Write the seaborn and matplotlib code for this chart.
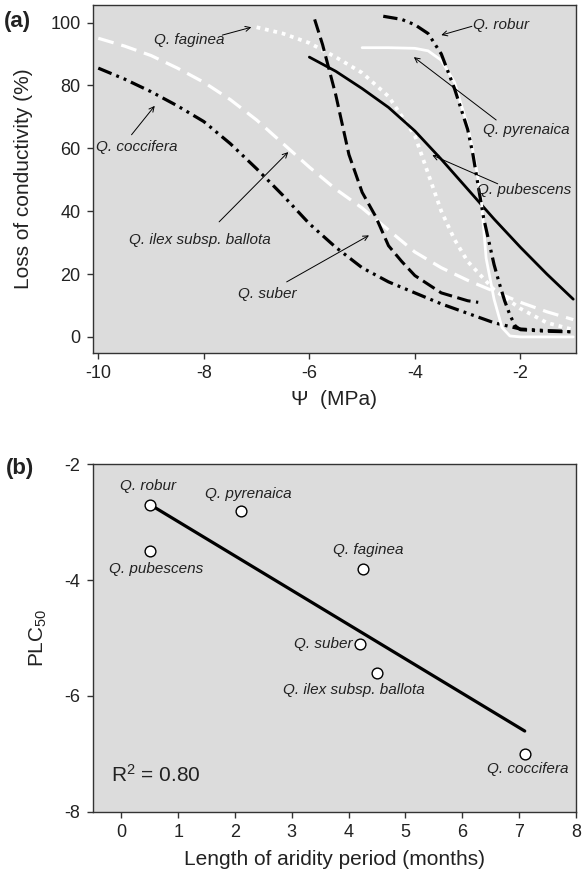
import matplotlib
matplotlib.use("Agg")
import matplotlib.pyplot as plt
import seaborn as sns

# ---- panel (a): vulnerability curves, Psi (MPa) vs loss of conductivity (%)
cocc_x = [-10, -9.5, -9, -8.5, -8, -7.5, -7, -6.5, -6, -5.5, -5, -4.5, -4, -3.5, -3, -2.5, -2, -1.5, -1]
cocc_y = [85.5, 82, 78, 73.5, 68.5, 61.5, 53.5, 45, 36, 28.5, 22, 17.5, 14, 10.5, 7.5, 4.5, 2.5, 2, 1.7]

ilex_x = [-10, -9.5, -9, -8.5, -8, -7.5, -7, -6.5, -6, -5.5, -5, -4.5, -4, -3.5, -3, -2.5, -2, -1.5, -1]
ilex_y = [95, 92.5, 89.5, 85.5, 81, 75.5, 69, 61.5, 54, 47, 41, 34, 27, 22, 18, 14.5, 11, 8, 5.5]

fag_x = [-7, -6.5, -6, -5.5, -5, -4.5, -4, -3.75, -3.5, -3.25, -3, -2.5, -2, -1.5, -1]
fag_y = [98.5, 96.5, 93.5, 89, 84, 76.5, 64, 52, 40, 31, 24, 15, 9, 4.5, 2.3]

suber_x = [-5.9, -5.75, -5.5, -5.25, -5, -4.75, -4.5, -4.25, -4, -3.5, -3, -2.8]
suber_y = [101, 93, 77, 58, 46, 38.5, 29, 24, 19.5, 14, 11.5, 11]

pub_x = [-6, -5.5, -5, -4.5, -4, -3.5, -3, -2.5, -2, -1.5, -1]
pub_y = [89, 84.5, 79, 73, 65.5, 56.5, 47, 37.5, 28.5, 20, 12]

pyr_x = [-5, -4.5, -4, -3.75, -3.5, -3.25, -3, -2.85, -2.75, -2.65, -2.5, -2.35, -2.2, -2, -1.5, -1]
pyr_y = [92, 92, 91.8, 91, 88, 81, 67, 55, 45, 25, 12, 3, 0.3, 0, 0, 0]

rob_x = [-4.6, -4.25, -4, -3.75, -3.5, -3.25, -3, -2.9, -2.8, -2.7, -2.6, -2.5, -2.4, -2.3, -2.2, -2.1, -2, -1.5, -1]
rob_y = [102, 101, 99.3, 96.5, 90, 79, 66, 58, 48, 38, 30.5, 23, 17, 11.5, 7, 3.5, 2.3, 1.8, 1.6]

# ---- panel (b): PLC50 vs length of aridity period
species = ["Q. robur", "Q. pyrenaica", "Q. pubescens", "Q. faginea",
           "Q. suber", "Q. ilex subsp. ballota", "Q. coccifera"]
aridity = [0.5, 2.1, 0.5, 4.25, 4.2, 4.5, 7.1]
plc50 = [-2.7, -2.8, -3.5, -3.8, -5.1, -5.6, -7.0]

sns.set_style("ticks", {"axes.facecolor": "#dcdcdc", "axes.edgecolor": "#333333"})
plt.rcParams["font.family"] = ["Liberation Sans", "DejaVu Sans"]
plt.rcParams["mathtext.fontset"] = "custom"
plt.rcParams["mathtext.rm"] = "Liberation Sans"
plt.rcParams["mathtext.it"] = "Liberation Sans:italic"
plt.rcParams["axes.unicode_minus"] = False

TXT = "#222222"
fig = plt.figure(figsize=(5.86, 8.75), dpi=100)
ax_a = fig.add_axes([0.1587, 0.597, 0.824, 0.397])
ax_b = fig.add_axes([0.1587, 0.0723, 0.824, 0.397])

dashdotdot = (0, (4.5, 1.6, 0.9, 1.6, 0.9, 1.6))
styles = [
    (cocc_x, cocc_y, "black", dashdotdot, 2.3),
    (ilex_x, ilex_y, "white", (0, (5, 2.5)), 2.3),
    (fag_x, fag_y, "white", (0, (1, 1.3)), 2.7),
    (suber_x, suber_y, "black", (0, (4.5, 1.8)), 2.2),
    (pub_x, pub_y, "black", "-", 2.0),
    (pyr_x, pyr_y, "white", "-", 2.0),
    (rob_x, rob_y, "black", dashdotdot, 2.3),
]
for xs, ys, col, ls, lw in styles:
    sns.lineplot(x=xs, y=ys, ax=ax_a, color=col, linestyle=ls, linewidth=lw,
                 sort=False, estimator=None)

ax_a.set_xlim(-10.1, -0.95)
ax_a.set_ylim(-5, 105.5)
ax_a.set_xticks([-10, -8, -6, -4, -2])
ax_a.set_yticks([0, 20, 40, 60, 80, 100])
ax_a.set_xlabel("Ψ  (MPa)", fontsize=15, color=TXT, labelpad=6)
ax_a.set_ylabel("Loss of conductivity (%)", fontsize=15, color=TXT)
ax_a.yaxis.set_label_coords(-0.125, 0.5)

lab = dict(fontsize=11, style="italic", color=TXT, va="center")
arr = dict(arrowstyle="->", color="black", lw=0.7, shrinkA=0, shrinkB=0, mutation_scale=9)
notes_a = [
    ("Q. faginea", (-8.95, 94.5), (-7.65, 96), (-7.1, 98.5)),
    ("Q. robur", (-2.9, 99.3), (-2.92, 98.8), (-3.5, 96)),
    ("Q. pyrenaica", (-2.71, 65.7), (-2.46, 69), (-4.02, 89)),
    ("Q. pubescens", (-2.82, 46.6), (-2.43, 48.7), (-3.67, 57.8)),
    ("Q. coccifera", (-10.05, 60.4), (-9.37, 64.3), (-8.93, 73.5)),
    ("Q. ilex subsp. ballota", (-9.41, 30.8), (-7.71, 36.6), (-6.4, 58.8)),
    ("Q. suber", (-7.35, 13.8), (-6.43, 17.5), (-4.87, 32.3)),
]
for name, tpos, tail, tip in notes_a:
    ax_a.text(tpos[0], tpos[1], name, ha="left", **lab)
    ax_a.annotate("", xy=tip, xytext=tail, arrowprops=arr)

# panel (b)
sns.regplot(x=aridity, y=plc50, ax=ax_b, ci=None, scatter=False, color="black",
            line_kws=dict(lw=2.3))
sns.scatterplot(x=aridity, y=plc50, ax=ax_b, color="white", edgecolor="black",
                linewidth=1.0, s=60, zorder=3)

ax_b.set_xlim(-0.5, 8)
ax_b.set_ylim(-8, -2)
ax_b.set_xticks(range(0, 9))
ax_b.set_yticks([-8, -6, -4, -2])
ax_b.set_xlabel("Length of aridity period (months)", fontsize=15, color=TXT, labelpad=6)
ax_b.set_ylabel("PLC$_{50}$", fontsize=15, color=TXT)
ax_b.yaxis.set_label_coords(-0.092, 0.5)

label_pos_b = [(0.47, -2.38), (2.23, -2.51), (0.61, -3.81), (4.35, -3.48),
               (3.55, -5.1), (4.1, -5.9), (7.16, -7.27)]
for name, (tx, ty) in zip(species, label_pos_b):
    ax_b.text(tx, ty, name, ha="center", **lab)
ax_b.text(-0.19, -7.37, "R$^2$ = 0.80", fontsize=15, color=TXT, va="center", ha="left")

for ax in (ax_a, ax_b):
    for sp in ax.spines.values():
        sp.set_visible(True)
        sp.set_linewidth(1.0)
        sp.set_color("#333333")
    ax.tick_params(direction="out", length=4, width=1, pad=5, labelsize=13,
                   colors="#333333", labelcolor=TXT)

fig.text(0.029, 0.975, "(a)", fontsize=16, fontweight="bold", color=TXT, ha="center", va="center")
fig.text(0.034, 0.465, "(b)", fontsize=16, fontweight="bold", color=TXT, ha="center", va="center")

fig.savefig("out.png", dpi=100, facecolor="white")
